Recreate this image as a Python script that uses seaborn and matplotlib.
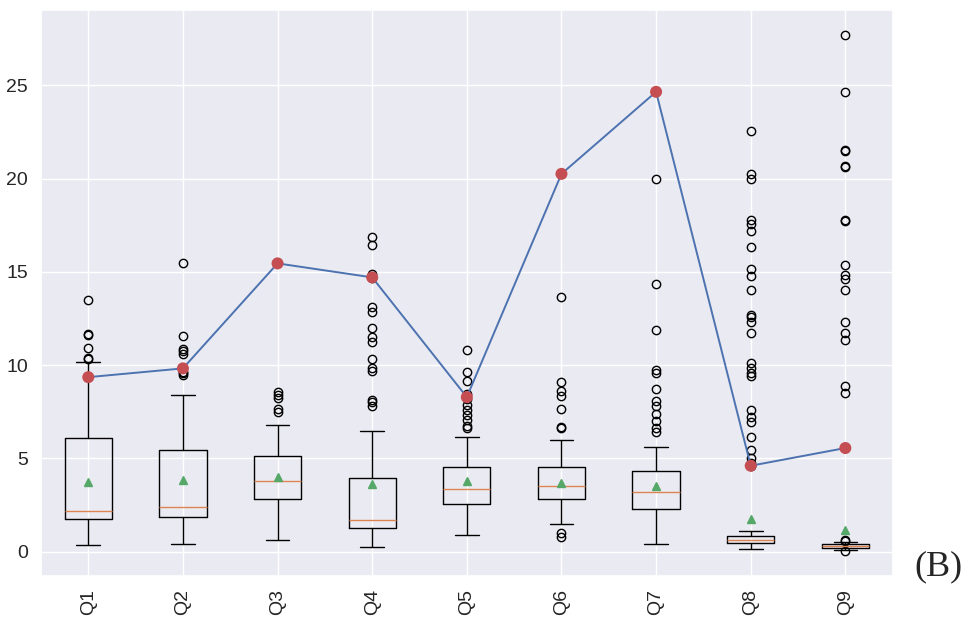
import numpy as np
import pandas as pd
import matplotlib
matplotlib.use("Agg")
import matplotlib.pyplot as plt
import seaborn as sns

labels = ["Q1", "Q2", "Q3", "Q4", "Q5", "Q6", "Q7", "Q8", "Q9"]
whislo = [0.35, 0.39, 0.6, 0.25, 0.9, 1.5, 0.4, 0.15, 0.1]
q1 = [1.72, 1.84, 2.8, 1.27, 2.55, 2.8, 2.3, 0.45, 0.2]
med = [2.2, 2.4, 3.77, 1.68, 3.38, 3.52, 3.18, 0.63, 0.32]
mean = [3.73, 3.81, 4.0, 3.6, 3.79, 3.69, 3.52, 1.75, 1.17]
q3 = [6.07, 5.47, 5.12, 3.93, 4.55, 4.55, 4.3, 0.85, 0.42]
whishi = [10.14, 8.38, 6.78, 6.45, 6.13, 5.98, 5.61, 1.1, 0.5]
fliers = [
    [10.35, 10.4, 10.9, 11.6, 11.65, 13.5],
    [9.45, 9.55, 9.6, 10.6, 10.75, 10.85, 11.55, 15.45],
    [7.5, 7.65, 8.25, 8.4, 8.55],
    [7.8, 8.0, 8.15, 9.7, 9.85, 10.3, 11.25, 11.5, 12.0, 12.85, 13.1, 14.65, 14.9, 16.45, 16.85],
    [6.6, 6.75, 7.05, 7.3, 7.6, 7.85, 8.2, 8.45, 9.15, 9.6, 10.8],
    [0.8, 1.0, 6.6, 6.7, 7.65, 8.35, 8.6, 9.1, 13.65],
    [6.4, 6.6, 7.0, 7.4, 7.8, 8.05, 8.7, 9.55, 9.75, 11.9, 14.35, 19.95],
    [4.6, 4.75, 5.0, 5.45, 6.15, 6.95, 7.2, 7.6, 9.4, 9.55, 9.85, 10.1, 11.7, 12.3,
     12.55, 12.7, 14.05, 14.75, 15.15, 16.35, 17.2, 17.55, 17.75, 20.0, 20.25, 22.55],
    [0.04, 0.55, 0.6, 8.5, 8.85, 11.35, 11.7, 12.3, 14.0, 14.6, 14.85, 15.35, 17.7,
     17.75, 20.6, 20.65, 21.5, 21.55, 24.65, 27.7],
]
line_vals = [9.35, 9.82, 15.45, 14.7, 8.28, 20.25, 24.65, 4.6, 5.55]

sns.set_theme(style="darkgrid")
plt.rcParams["font.family"] = ["Liberation Sans", "DejaVu Sans"]

fig = plt.figure(figsize=(9.64, 6.17), dpi=100)
ax = fig.add_axes([0.0425, 0.0665, 0.8835, 0.918])

stats = []
for i in range(len(labels)):
    stats.append(dict(label=labels[i], whislo=whislo[i], q1=q1[i], med=med[i],
                      mean=mean[i], q3=q3[i], whishi=whishi[i],
                      fliers=np.array(fliers[i])))
ax.bxp(stats, showmeans=True)

pos = np.arange(1, len(labels) + 1)
df = pd.DataFrame({"x": pos, "y": line_vals})
sns.lineplot(data=df, x="x", y="y", ax=ax, color="C0", linewidth=1.4)
sns.scatterplot(data=df, x="x", y="y", ax=ax, color="C3", s=75, edgecolor="none", zorder=5)

ax.set_xlim(0.5, 9.5)
ax.set_ylim(-1.31, 29.06)
ax.set_xticks(pos)
ax.set_xticklabels(labels, rotation=90)
ax.set_yticks([0, 5, 10, 15, 20, 25])
ax.set_xlabel("")
ax.set_ylabel("")
ax.tick_params(labelsize=14)

fig.text(0.998, 0.081, "(B)", ha="right", va="center", fontsize=26,
         family=["Liberation Serif", "DejaVu Serif"])

fig.savefig("out.png", dpi=100)
